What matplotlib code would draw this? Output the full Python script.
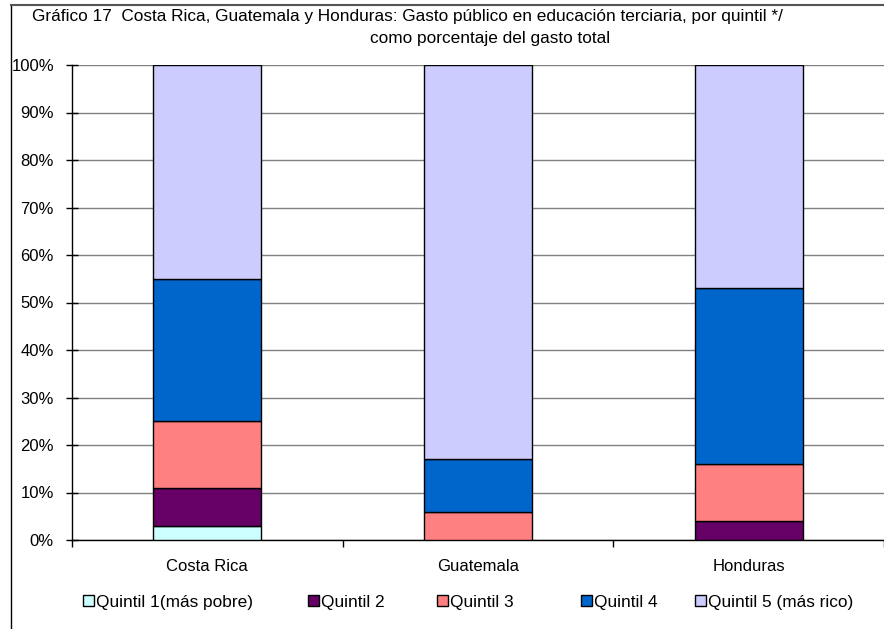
import matplotlib
matplotlib.use("Agg")
import matplotlib.pyplot as plt
from matplotlib.patches import Patch
from matplotlib.lines import Line2D
import numpy as np

plt.rcParams['font.family'] = ['Liberation Sans', 'DejaVu Sans']

countries = ["Costa Rica", "Guatemala", "Honduras"]
series_names = ["Quintil 1(más pobre)", "Quintil 2", "Quintil 3", "Quintil 4", "Quintil 5 (más rico)"]
q1 = [3, 0, 0]
q2 = [8, 0, 4]
q3 = [14, 6, 12]
q4 = [30, 11, 37]
q5 = [45, 83, 47]
colors = ["#CCFFFF", "#660066", "#FF8080", "#0066CC", "#CCCCFF"]
ytick_labels = ["0%", "10%", "20%", "30%", "40%", "50%", "60%", "70%", "80%", "90%", "100%"]

FS = 12
W, H = 884, 629
fig = plt.figure(figsize=(W / 100, H / 100), dpi=100)
ax = fig.add_axes([72 / W, 1 - 540 / H, (W - 72) / W, (540 - 65) / H])

x = np.arange(len(countries))
bottom = np.zeros(len(countries))
for vals, c, name in zip([q1, q2, q3, q4, q5], colors, series_names):
    vals = np.array(vals, dtype=float)
    ax.bar(x, vals, 0.40, bottom=bottom, color=c, edgecolor="black", linewidth=1.0, label=name, zorder=3)
    bottom += vals

ax.set_xlim(-0.5, 2.5)
ax.set_ylim(0, 100)
ax.set_yticks(np.arange(0, 101, 10))
ax.set_yticklabels(ytick_labels, fontsize=FS)
ax.yaxis.grid(True, color="#808080", linewidth=1.0, zorder=0)
ax.set_axisbelow(True)

ax.set_xticks(x)
ax.set_xticklabels(countries, fontsize=FS)
ax.tick_params(axis="x", length=0, pad=14)
ax.set_xticks([-0.5, 0.5, 1.5, 2.5], minor=True)
ax.tick_params(axis="x", which="minor", length=5, width=1, color="black", direction="out")
ax.tick_params(axis="y", length=8, width=1, color="black", direction="inout", pad=9)

for s in ["top", "right"]:
    ax.spines[s].set_visible(False)
ax.spines["left"].set_color("black")
ax.spines["bottom"].set_color("black")
ax.spines["left"].set_linewidth(1.0)
ax.spines["bottom"].set_linewidth(1.0)

# figure frame (left and top)
fig.add_artist(Line2D([11 / W, 11 / W], [0, 1 - 5 / H], transform=fig.transFigure, color="black", linewidth=1.0))
fig.add_artist(Line2D([11 / W, 1], [1 - 5 / H, 1 - 5 / H], transform=fig.transFigure, color="#555555", linewidth=1.5))

fig.text(32 / W, 1 - 17 / H,
         "Gráfico 17  Costa Rica, Guatemala y Honduras: Gasto público en educación terciaria, por quintil */",
         fontsize=12.4, ha="left", va="center")
fig.text(490 / W, 1 - 38 / H, "como porcentaje del gasto total", fontsize=12.4, ha="center", va="center")

legend_x = [83, 308, 437, 581, 695]
for lx, c, name in zip(legend_x, colors, series_names):
    fig.legend(handles=[Patch(facecolor=c, edgecolor="black", linewidth=1.0, label=name)],
               loc="center left", bbox_to_anchor=(lx / W, 1 - 602 / H), frameon=False,
               fontsize=12.4, handlelength=0.64, handleheight=0.64, handletextpad=0.12,
               borderpad=0, borderaxespad=0)

fig.savefig("out.png", dpi=100)
